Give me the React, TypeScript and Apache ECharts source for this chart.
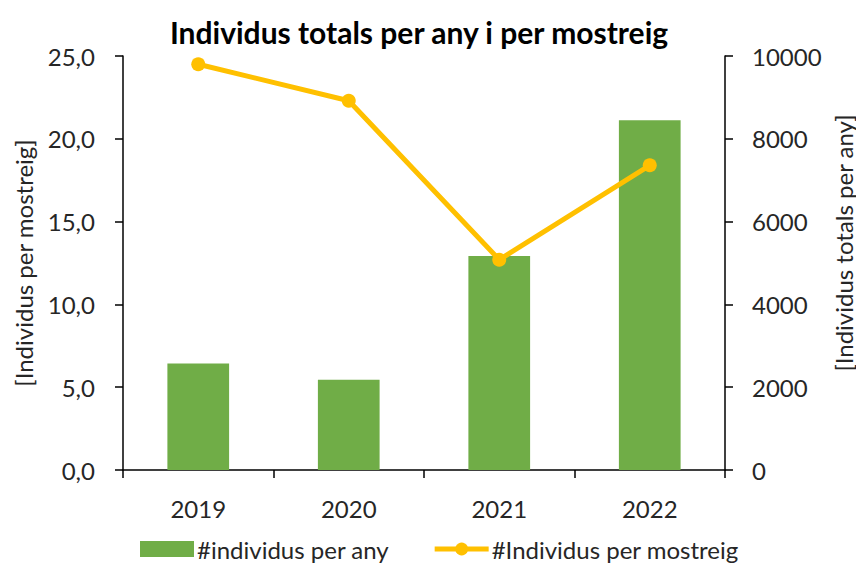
import React, { useEffect, useRef } from "react";
import * as echarts from "echarts";

const years = ["2019", "2020", "2021", "2022"];
const totalsPerYear = [2570, 2180, 5170, 8450];
const perSample = [24.5, 22.3, 12.7, 18.4];
const titleText = "Individus totals per any i per mostreig";
const leftAxisName = "[Individus per mostreig]";
const rightAxisName = "[Individus totals per any]";
const barName = "#individus per any";
const lineName = "#Individus per mostreig";

const FONT = "Lato, 'Open Sans', sans-serif";
const TXT = "#262626";

export default function App() {
  const ref = useRef<HTMLDivElement>(null);
  useEffect(() => {
    document.body.style.margin = "0";
    const chart = echarts.init(ref.current!, null, { renderer: "svg" });
    chart.setOption({
      animation: false,
      backgroundColor: "#ffffff",
      textStyle: { fontFamily: FONT },
      title: {
        text: titleText,
        left: 414,
        top: 12,
        textAlign: "center",
        textStyle: { fontFamily: FONT, fontWeight: "bold", fontSize: 30, color: "#000" },
      },
      grid: { left: 123, right: 131, top: 56, bottom: 97 },
      legend: {
        left: 135,
        top: 530,
        itemWidth: 54,
        itemHeight: 16,
        itemGap: 43,
        textStyle: { fontFamily: FONT, fontSize: 24, lineHeight: 28, color: TXT, padding: [0, 0, 0, -2] },
        data: [
          { name: barName, icon: "rect" },
          {
            name: lineName,
            lineStyle: { color: "#FFC000", width: 5 },
            itemStyle: { color: "#FFC000" },
          },
        ],
      },
      xAxis: {
        type: "category",
        data: years,
        axisLine: { lineStyle: { color: "#000", width: 1.5 } },
        axisTick: { show: true, length: 8, lineStyle: { color: "#000", width: 1.5 } },
        axisLabel: { fontFamily: FONT, fontSize: 24, color: TXT, margin: 26 },
      },
      yAxis: [
        {
          type: "value",
          min: 0,
          max: 25,
          interval: 5,
          position: "left",
          axisLine: { show: true, lineStyle: { color: "#000", width: 1.5 } },
          axisTick: { show: true, length: 8, lineStyle: { color: "#000", width: 1.5 } },
          splitLine: { show: false },
          axisLabel: {
            fontFamily: FONT,
            fontSize: 24,
            color: TXT,
            margin: 28,
            formatter: (v: number) => v.toFixed(1).replace(".", ","),
          },
        },
        {
          type: "value",
          min: 0,
          max: 10000,
          interval: 2000,
          position: "right",
          axisLine: { show: true, lineStyle: { color: "#000", width: 1.5 } },
          axisTick: { show: true, length: 8, lineStyle: { color: "#000", width: 1.5 } },
          splitLine: { show: false },
          axisLabel: {
            fontFamily: FONT,
            fontSize: 24,
            color: TXT,
            margin: 27,
            formatter: (v: number) => String(v),
          },
        },
      ],
      graphic: [
        {
          type: "text",
          x: 23,
          y: 263,
          rotation: Math.PI / 2,
          style: {
            text: leftAxisName,
            font: `24px ${FONT}`,
            fill: TXT,
            textAlign: "center",
            textVerticalAlign: "middle",
          },
        },
        {
          type: "text",
          x: 843,
          y: 243,
          rotation: Math.PI / 2,
          style: {
            text: rightAxisName,
            font: `24px ${FONT}`,
            fill: TXT,
            textAlign: "center",
            textVerticalAlign: "middle",
          },
        },
      ],
      series: [
        {
          name: barName,
          type: "bar",
          yAxisIndex: 1,
          data: totalsPerYear,
          barWidth: "41%",
          itemStyle: { color: "#70AD47" },
          z: 2,
        },
        {
          name: lineName,
          type: "line",
          yAxisIndex: 0,
          data: perSample,
          symbol: "circle",
          symbolSize: 14,
          lineStyle: { color: "#FFC000", width: 5 },
          itemStyle: { color: "#FFC000" },
          z: 3,
        },
      ],
    });
    return () => chart.dispose();
  }, []);
  return <div ref={ref} style={{ width: 856, height: 567 }} />;
}
